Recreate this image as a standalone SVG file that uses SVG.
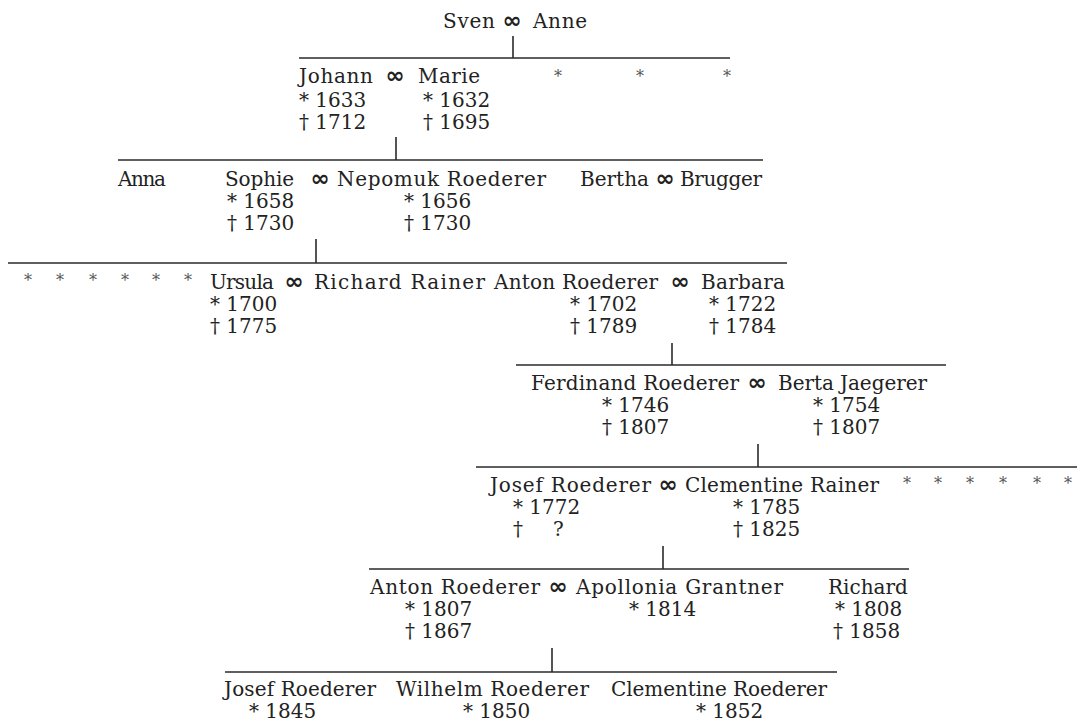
<svg xmlns="http://www.w3.org/2000/svg" width="1077" height="722" viewBox="0 0 1077 722">
<style>
text{font-family:"DejaVu Serif","Liberation Serif",serif;font-size:20px;fill:#222}
.inf{font-family:"DejaVu Sans",sans-serif;font-size:23px;font-weight:bold;text-anchor:middle}
.st{font-size:16px;fill:#555;text-anchor:middle}
.ln{stroke:#2a2a2a;stroke-width:1.6;fill:none}
</style>
<rect width="1077" height="722" fill="#fff"/>
<g id="connectors" class="ln">
<line x1="513" y1="36" x2="513" y2="58"/><line x1="299" y1="58" x2="730" y2="58"/>
<line x1="396" y1="137" x2="396" y2="160"/><line x1="118" y1="160" x2="763" y2="160"/>
<line x1="316" y1="239" x2="316" y2="263"/><line x1="8" y1="263" x2="787" y2="263"/>
<line x1="672" y1="343" x2="672" y2="365"/><line x1="516" y1="365" x2="946" y2="365"/>
<line x1="758" y1="444" x2="758" y2="467"/><line x1="476" y1="467" x2="1077" y2="467"/>
<line x1="663" y1="546" x2="663" y2="569"/><line x1="369" y1="569" x2="909" y2="569"/>
<line x1="552" y1="648" x2="552" y2="672"/><line x1="225" y1="672" x2="837" y2="672"/>
</g>
<g id="sven-anne"><text x="443" y="28" textLength="52">Sven</text><text class="inf" x="512" y="28">∞</text><text x="533" y="28" textLength="54">Anne</text></g>
<g id="johann-marie"><text x="299" y="83" textLength="74">Johann</text><text class="inf" x="395" y="83">∞</text><text x="418" y="83" textLength="62">Marie</text>
<text x="299" y="107">* 1633</text><text x="423" y="107">* 1632</text>
<text x="299" y="129">† 1712</text><text x="423" y="129">† 1695</text></g>
<g id="siblings-1"><text class="st" x="558" y="82">*</text><text class="st" x="640" y="82">*</text><text class="st" x="727" y="82">*</text></g>
<g id="anna"><text x="118" y="186" textLength="48">Anna</text></g>
<g id="sophie-nepomuk"><text x="225" y="186" textLength="69">Sophie</text><text class="inf" x="320" y="186">∞</text><text x="337" y="186" textLength="209">Nepomuk Roederer</text>
<text x="227" y="208">* 1658</text><text x="404" y="208">* 1656</text>
<text x="227" y="230">† 1730</text><text x="404" y="230">† 1730</text></g>
<g id="bertha-brugger"><text x="580" y="186" textLength="69">Bertha</text><text class="inf" x="665" y="186">∞</text><text x="680" y="186" textLength="82">Brugger</text></g>
<g id="siblings-3"><text class="st" x="28" y="286">*</text><text class="st" x="60" y="286">*</text><text class="st" x="93" y="286">*</text><text class="st" x="125" y="286">*</text><text class="st" x="156" y="286">*</text><text class="st" x="188" y="286">*</text></g>
<g id="ursula-richard"><text x="210" y="289" textLength="64">Ursula</text><text class="inf" x="294" y="289">∞</text><text x="314" y="289" textLength="171">Richard Rainer</text>
<text x="210" y="311">* 1700</text><text x="210" y="333">† 1775</text></g>
<g id="anton-barbara"><text x="494" y="289" textLength="164">Anton Roederer</text><text class="inf" x="680" y="289">∞</text><text x="701" y="289" textLength="84">Barbara</text>
<text x="570" y="311">* 1702</text><text x="709" y="311">* 1722</text>
<text x="570" y="333">† 1789</text><text x="709" y="333">† 1784</text></g>
<g id="ferdinand-berta"><text x="531" y="390" textLength="208">Ferdinand Roederer</text><text class="inf" x="757" y="390">∞</text><text x="778" y="390" textLength="149">Berta Jaegerer</text>
<text x="602" y="412">* 1746</text><text x="813" y="412">* 1754</text>
<text x="602" y="434">† 1807</text><text x="813" y="434">† 1807</text></g>
<g id="josef-clementine"><text x="490" y="492" textLength="161">Josef Roederer</text><text class="inf" x="668" y="492">∞</text><text x="685" y="492" textLength="194">Clementine Rainer</text>
<text x="513" y="514">* 1772</text><text x="733" y="514">* 1785</text>
<text x="513" y="536">†</text><text x="553" y="536">?</text><text x="733" y="536">† 1825</text></g>
<g id="siblings-5"><text class="st" x="907" y="489">*</text><text class="st" x="938" y="489">*</text><text class="st" x="970" y="489">*</text><text class="st" x="1003" y="489">*</text><text class="st" x="1037" y="489">*</text><text class="st" x="1068" y="489">*</text></g>
<g id="anton-apollonia"><text x="370" y="594" textLength="170">Anton Roederer</text><text class="inf" x="558" y="594">∞</text><text x="576" y="594" textLength="207">Apollonia Grantner</text>
<text x="405" y="616">* 1807</text><text x="629" y="616">* 1814</text>
<text x="405" y="638">† 1867</text></g>
<g id="richard"><text x="828" y="594">Richard</text><text x="835" y="616">* 1808</text><text x="833" y="638">† 1858</text></g>
<g id="josef"><text x="224" y="696" textLength="152">Josef Roederer</text><text x="249" y="718">* 1845</text></g>
<g id="wilhelm"><text x="396" y="696" textLength="193">Wilhelm Roederer</text><text x="463" y="718">* 1850</text></g>
<g id="clementine"><text x="611" y="696" textLength="216">Clementine Roederer</text><text x="696" y="718">* 1852</text></g>
</svg>
